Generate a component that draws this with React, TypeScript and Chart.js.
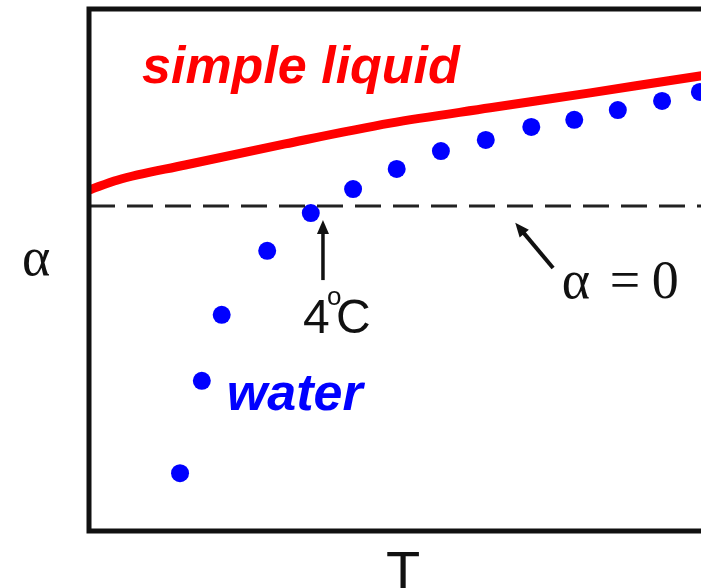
import React, { useEffect, useRef } from "react";
import { Chart, registerables } from "chart.js";

Chart.register(...registerables);

// Water: thermal expansion coefficient alpha vs temperature T (arbitrary units)
const T_WATER = [14.2, 17.6, 20.7, 27.8, 34.6, 41.2, 48.0, 54.9, 61.9, 69.0, 75.7, 82.5, 89.4, 95.3];
const ALPHA_WATER = [-0.822, -0.538, -0.335, -0.138, -0.022, 0.052, 0.114, 0.169, 0.203, 0.243, 0.265, 0.295, 0.323, 0.351];

// Simple liquid curve
const T_SIMPLE = [0, 4.5, 15, 30.6, 47, 62.6, 78.2, 95.3, 100];
const ALPHA_SIMPLE = [0.049, 0.08, 0.126, 0.191, 0.255, 0.302, 0.348, 0.4, 0.413];

// Reference line alpha = 0
const T_ZERO = [0, 100];
const ALPHA_ZERO = [0, 0];

const X_RANGE = [0, 100];
const Y_RANGE = [-1, 0.606];

const annotationPlugin = {
  id: "annotations",
  afterDatasetsDraw(chart: any) {
    const { ctx, chartArea, scales } = chart;
    const xs = scales.x;
    const ys = scales.y;
    const px = (t: number) => xs.getPixelForValue(t);
    const py = (a: number) => ys.getPixelForValue(a);
    ctx.save();

    // frame
    ctx.strokeStyle = "#111";
    ctx.lineWidth = 5;
    ctx.strokeRect(chartArea.left, chartArea.top, chartArea.right - chartArea.left, chartArea.bottom - chartArea.top);

    const arrow = (x1: number, y1: number, x2: number, y2: number, w: number) => {
      // from (x1,y1) tail to (x2,y2) tip
      const ang = Math.atan2(y2 - y1, x2 - x1);
      const hl = 14, hw = 6;
      ctx.strokeStyle = "#111";
      ctx.fillStyle = "#111";
      ctx.lineWidth = w;
      ctx.beginPath();
      ctx.moveTo(x1, y1);
      ctx.lineTo(x2 - Math.cos(ang) * hl * 0.7, y2 - Math.sin(ang) * hl * 0.7);
      ctx.stroke();
      ctx.beginPath();
      ctx.moveTo(x2, y2);
      ctx.lineTo(x2 - Math.cos(ang) * hl - Math.sin(ang) * hw, y2 - Math.sin(ang) * hl + Math.cos(ang) * hw);
      ctx.lineTo(x2 - Math.cos(ang) * hl + Math.sin(ang) * hw, y2 - Math.sin(ang) * hl - Math.cos(ang) * hw);
      ctx.closePath();
      ctx.fill();
    };

    // 4 C arrow
    arrow(px(36.5), py(-0.228), px(36.5), py(-0.043), 3.5);
    // alpha = 0 arrow
    arrow(px(72.4), py(-0.191), px(66.5), py(-0.052), 4);

    ctx.textBaseline = "alphabetic";
    ctx.textAlign = "left";

    // simple liquid
    ctx.fillStyle = "#ff0000";
    ctx.font = 'italic bold 52px "Liberation Sans", Arial, sans-serif';
    ctx.fillText("simple liquid", px(8.27), py(0.378));

    // water
    ctx.fillStyle = "#0000ff";
    ctx.fillText("water", px(21.5), py(-0.628));

    // 4 deg C
    ctx.fillStyle = "#111";
    ctx.font = '48px "Liberation Sans", Arial, sans-serif';
    const bx = px(33.4);
    const by = py(-0.391);
    ctx.fillText("4", bx, by);
    ctx.fillText("C", bx + 33, by);
    ctx.font = '26px "Liberation Sans", Arial, sans-serif';
    ctx.fillText("o", bx + 24, by - 28);

    // alpha = 0
    ctx.font = '54px "Liberation Serif", "Times New Roman", serif';
    const ax = px(73.9);
    const ay = py(-0.283);
    ctx.fillText("\u03b1", ax - 1, ay);
    ctx.fillText("=", ax + 47, ay);
    ctx.fillText("0", ax + 89, ay);

    // axis labels
    ctx.fillText("\u03b1", chartArea.left - 67, py(-0.212));
    ctx.font = '56px "Liberation Sans", Arial, sans-serif';
    ctx.textAlign = "center";
    ctx.fillText("T", 403, chartArea.bottom + 59);

    ctx.restore();
  },
};

export default function App() {
  const ref = useRef<HTMLCanvasElement | null>(null);
  useEffect(() => {
    if (!ref.current) return;
    const chart = new Chart(ref.current, {
      type: "line",
      data: {
        datasets: [
          {
            label: "alpha = 0",
            data: T_ZERO.map((t, i) => ({ x: t, y: ALPHA_ZERO[i] })),
            borderColor: "#222",
            borderWidth: 3,
            borderDash: [26, 12],
            borderDashOffset: 0,
            pointRadius: 0,
            fill: false,
          },
          {
            label: "simple liquid",
            data: T_SIMPLE.map((t, i) => ({ x: t, y: ALPHA_SIMPLE[i] })),
            borderColor: "#ff0000",
            borderWidth: 9,
            pointRadius: 0,
            cubicInterpolationMode: "monotone",
            fill: false,
          },
          {
            label: "water",
            data: T_WATER.map((t, i) => ({ x: t, y: ALPHA_WATER[i] })),
            showLine: false,
            pointRadius: 9,
            pointBackgroundColor: "#0000ff",
            pointBorderWidth: 0,
            borderColor: "#0000ff",
          },
        ],
      },
      options: {
        responsive: false,
        animation: false,
        devicePixelRatio: 1,
        layout: { padding: { left: 89, top: 9, right: 10, bottom: 57 } },
        plugins: { legend: { display: false }, tooltip: { enabled: false } },
        scales: {
          x: { type: "linear", display: false, min: X_RANGE[0], max: X_RANGE[1] },
          y: { type: "linear", display: false, min: Y_RANGE[0], max: Y_RANGE[1] },
        },
      },
      plugins: [annotationPlugin],
    } as any);
    return () => chart.destroy();
  }, []);
  return (
    <div style={{ position: "fixed", left: 0, top: 0, width: 701, height: 588, overflow: "hidden", background: "#fff" }}>
      <canvas ref={ref} width={740} height={588} style={{ display: "block", width: 740, height: 588 }} />
    </div>
  );
}
